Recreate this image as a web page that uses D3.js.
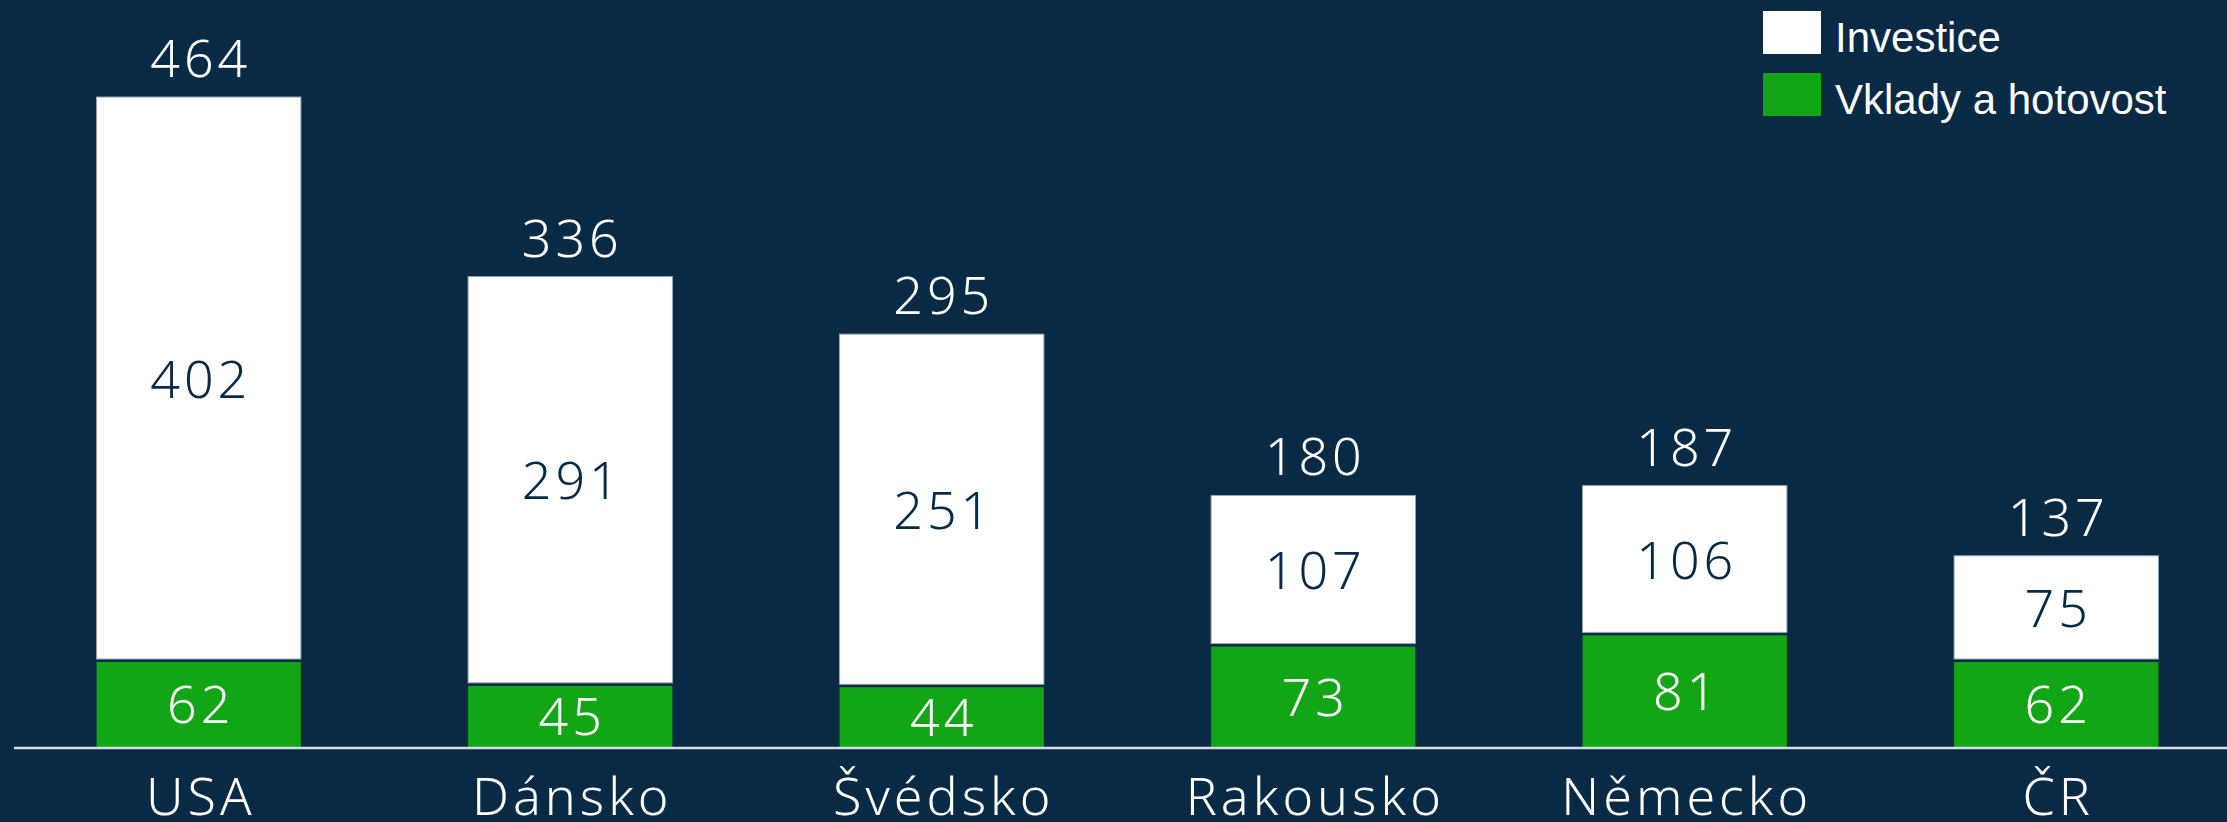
<!DOCTYPE html>
<html lang="cs">
  <head>
    <meta charset="utf-8">
    <title>Investice vs. vklady</title>
    <script src="https://d3js.org/d3.v7.min.js"></script>
    <style>
      body { margin: 0; background: #092a45; }
      svg { display: block; }
    </style>
  </head>
  <body>
  <script>
  // data
  var countries = ["USA", "Dánsko", "Švédsko", "Rakousko", "Německo", "ČR"];
  var vklady    = [62, 45, 44, 73, 81, 62];
  var investice = [402, 291, 251, 107, 106, 75];
  var seriesNames = ["Investice", "Vklady a hotovost"];

  var w = 2227, h = 822;
  var baseY = 748;
  var numFont = "'Noto Sans', sans-serif";
  var ls = 4; // wider letters, closer to the original font

  var svg = d3.select("body").append("svg")
    .attr("width", w)
    .attr("height", h);

  svg.append("rect").attr("width", w).attr("height", h).attr("fill", "#092a45");

  var x = d3.scaleBand()
    .domain(countries)
    .range([13, 2242])
    .paddingInner(0.45)
    .paddingOuter(0.225);

  var y = d3.scaleLinear()
    .domain([0, 500])
    .range([baseY, 46.5]);

  var rows = countries.map(function(c, i) {
    return { country: c, vklady: vklady[i], investice: investice[i] };
  });

  var stack = d3.stack().keys(["vklady", "investice"])(rows);
  var colors = { vklady: "#12a515", investice: "#ffffff" };

  var layers = svg.selectAll("g.layer").data(stack).enter().append("g")
    .attr("class", "layer");

  layers.selectAll("rect").data(function(d) { return d.map(function(p) { p.key = d.key; return p; }); })
    .enter().append("rect")
    .attr("x", function(d) { return x(d.data.country); })
    .attr("width", x.bandwidth())
    .attr("y", function(d) { return y(d[1]) + (d.key === "investice" ? 0 : 1); })
    .attr("height", function(d) { return y(d[0]) - y(d[1]) - (d.key === "investice" ? 2 : 1); })
    .attr("fill", function(d) { return colors[d.key]; })
    .attr("stroke", function(d) { return d.key === "investice" ? "#9aa6b2" : "none"; })
    .attr("stroke-width", 1);

  // segment labels
  layers.selectAll("text").data(function(d) { return d; })
    .enter().append("text")
    .attr("x", function(d) { return x(d.data.country) + x.bandwidth() / 2 + ls / 2; })
    .attr("y", function(d) { return (y(d[0]) + y(d[1])) / 2; })
    .attr("dy", "0.36em")
    .attr("text-anchor", "middle")
    .attr("font-family", numFont)
    .attr("font-weight", 300)
    .attr("font-size", 52)
    .attr("letter-spacing", ls)
    .attr("fill", function(d) { return d.key === "vklady" ? "#ffffff" : "#092a45"; })
    .text(function(d) { return d[1] - d[0]; });

  // totals above bars
  svg.selectAll("text.total").data(rows).enter().append("text")
    .attr("class", "total")
    .attr("x", function(d) { return x(d.country) + x.bandwidth() / 2 + ls / 2; })
    .attr("y", function(d) { return y(d.vklady + d.investice) - 20; })
    .attr("text-anchor", "middle")
    .attr("font-family", numFont)
    .attr("font-weight", 300)
    .attr("font-size", 52)
    .attr("letter-spacing", ls)
    .attr("fill", "#ffffff")
    .text(function(d) { return d.vklady + d.investice; });

  // baseline + category axis
  var axis = svg.append("g")
    .attr("transform", "translate(0," + baseY + ")")
    .call(d3.axisBottom(x).tickSize(0).tickPadding(0));
  axis.select(".domain").remove();
  axis.append("line")
    .attr("x1", 14).attr("x2", w)
    .attr("stroke", "#d8dde2").attr("stroke-width", 2.5);
  axis.selectAll(".tick text")
    .attr("x", ls / 2)
    .attr("y", 67)
    .attr("dy", 0)
    .attr("font-family", numFont)
    .attr("font-weight", 300)
    .attr("font-size", 52)
    .attr("letter-spacing", ls)
    .attr("fill", "#ffffff");

  // legend
  var legend = svg.append("g").attr("transform", "translate(1763,11)");
  var lg = legend.selectAll("g").data(seriesNames).enter().append("g")
    .attr("transform", function(d, i) { return "translate(0," + (i * 62) + ")"; });
  lg.append("rect")
    .attr("width", 58).attr("height", 43)
    .attr("fill", function(d, i) { return i === 0 ? "#ffffff" : "#12a515"; });
  lg.append("text")
    .attr("x", 72).attr("y", 41)
    .attr("font-family", "'Liberation Sans', Arial, sans-serif")
    .attr("font-size", 42)
    .attr("fill", "#ffffff")
    .text(function(d) { return d; });
  </script>
  </body>
</html>
